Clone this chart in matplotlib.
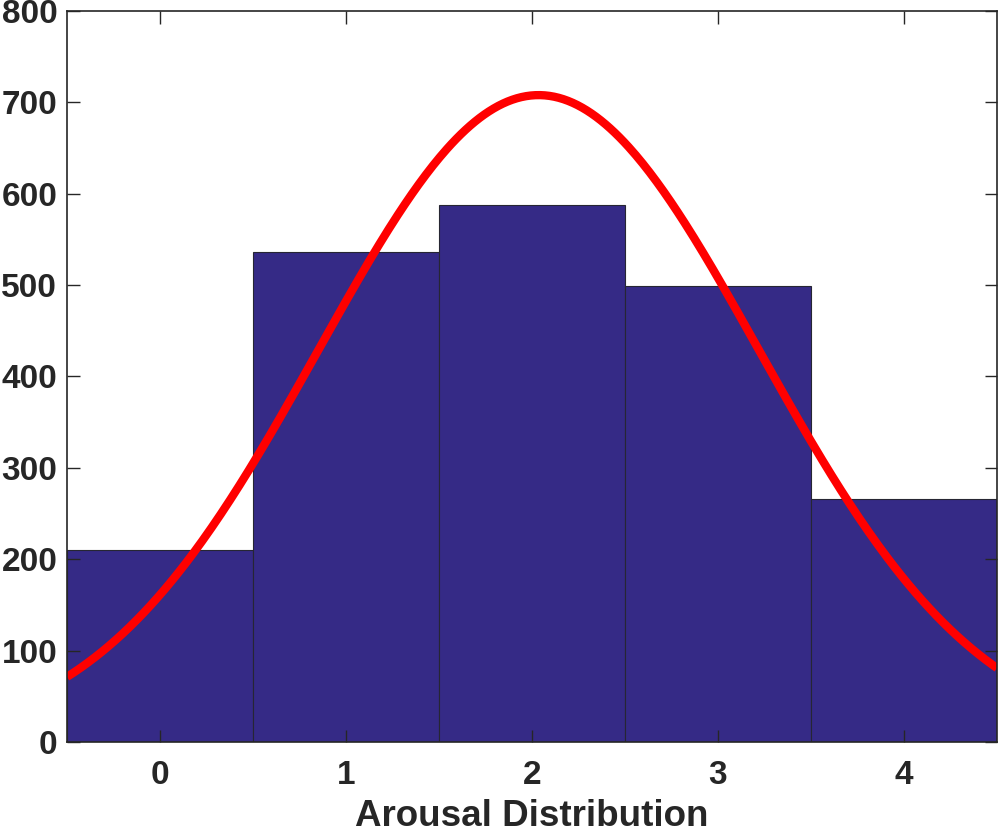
import numpy as np
import matplotlib
matplotlib.use("Agg")
import matplotlib.pyplot as plt

plt.rcParams['font.family'] = ['Liberation Sans', 'DejaVu Sans']
plt.rcParams['font.weight'] = 'bold'

bins = [0, 1, 2, 3, 4]
counts = [210, 536, 588, 499, 266]
xlabel = "Arousal Distribution"

# normal fit like histfit: mean/std from the binned data, scaled by N * bin width
x = np.array(bins, dtype=float)
c = np.array(counts, dtype=float)
n = c.sum()
mu = (x * c).sum() / n
sd = np.sqrt(((x - mu) ** 2 * c).sum() / (n - 1))
xs = np.linspace(-0.5, 4.5, 400)
ys = n * 1.0 / (sd * np.sqrt(2 * np.pi)) * np.exp(-0.5 * ((xs - mu) / sd) ** 2)

fig = plt.figure(figsize=(10, 8.36), dpi=100)
ax = fig.add_axes([0.067, 0.1125, 0.930, 0.8745])

ax.bar(bins, counts, width=1.0, color='#352A86', edgecolor='#262633', linewidth=0.8)
ax.plot(xs, ys, color='#FF0000', linewidth=6, solid_capstyle='butt')

ax.set_xlim(-0.5, 4.5)
ax.set_ylim(0, 800)
ax.set_xticks(bins)
ax.set_yticks(range(0, 801, 100))
ax.tick_params(direction='in', length=9, width=1, colors='#262626', labelsize=24,
               top=True, right=True, pad=7)
ax.tick_params(axis='x', pad=13)
for s in ax.spines.values():
    s.set_color('#262626')
    s.set_linewidth(1.2)
ax.set_xlabel(xlabel, fontsize=26.5, fontweight='bold', color='#262626', labelpad=6)

fig.savefig('out.png', dpi=100)
